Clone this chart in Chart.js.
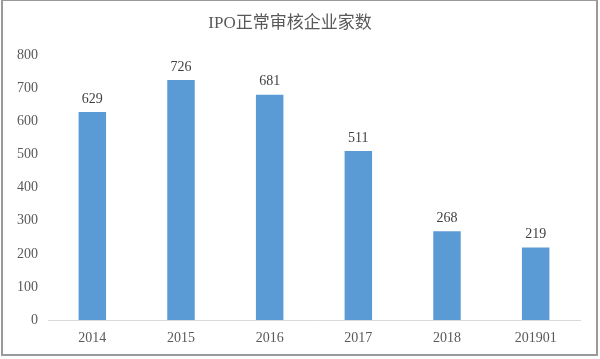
<!DOCTYPE html>
<html>
<head>
<meta charset="utf-8">
<script src="https://cdn.jsdelivr.net/npm/chart.js@4"></script>
<style>
  html, body { margin:0; padding:0; background:#fff; overflow:hidden; }
  #wrap { position:absolute; left:0; top:0; width:600px; height:359px; }
  #frame { position:absolute; left:1px; top:-1px; width:597px; height:357px; border:2px solid #9a9a9a; box-sizing:border-box; pointer-events:none; }
</style>
</head>
<body>
<div id="wrap"><canvas id="c" width="600" height="359"></canvas></div>
<div id="frame"></div>
<script>
const categories = ['2014', '2015', '2016', '2017', '2018', '201901'];
const values = [629, 726, 681, 511, 268, 219];
const yTicks = [0, 100, 200, 300, 400, 500, 600, 700, 800];
const titleText = 'IPO正常审核企业家数';

const FONT = '"Liberation Serif", "Times New Roman", "Noto Sans CJK SC", serif';

const valueLabels = {
  id: 'valueLabels',
  afterDatasetsDraw(chart) {
    const ctx = chart.ctx;
    const meta = chart.getDatasetMeta(0);
    ctx.save();
    ctx.font = '14px ' + FONT;
    ctx.fillStyle = '#404040';
    ctx.textAlign = 'center';
    ctx.textBaseline = 'bottom';
    meta.data.forEach((bar, i) => {
      ctx.fillText(String(values[i]), bar.x, bar.y - 6);
    });
    ctx.restore();
  }
};

new Chart(document.getElementById('c'), {
  type: 'bar',
  data: {
    labels: categories,
    datasets: [{
      data: values,
      backgroundColor: '#5B9BD5',
      categoryPercentage: 1,
      barPercentage: 0.31
    }]
  },
  options: {
    responsive: false,
    animation: false,
    devicePixelRatio: 1,
    layout: { padding: { left: 0, right: 20, top: 0, bottom: 17 } },
    plugins: {
      legend: { display: false },
      tooltip: { enabled: false },
      title: {
        display: true,
        text: titleText,
        color: '#595959',
        font: { family: FONT, size: 17, weight: 'normal' },
        padding: { top: 13, bottom: 22 }
      }
    },
    scales: {
      x: {
        grid: { display: false, drawTicks: false },
        border: { display: true, color: '#d9d9d9', width: 1 },
        ticks: { color: '#595959', font: { family: FONT, size: 14 }, padding: 10 },
        afterFit(s) { s.height = 22; }
      },
      y: {
        min: 0, max: 800,
        afterBuildTicks(s) { s.ticks = yTicks.map(v => ({ value: v })); },
        grid: { display: false, drawTicks: false },
        border: { display: false },
        ticks: { color: '#595959', font: { family: FONT, size: 14 }, padding: 10 },
        afterFit(s) { s.width = 48; }
      }
    }
  },
  plugins: [valueLabels]
});
</script>
</body>
</html>
